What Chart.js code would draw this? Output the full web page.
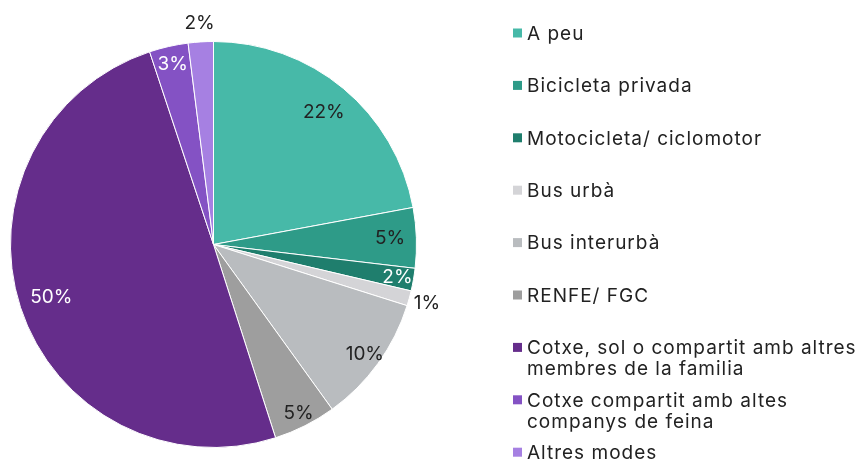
<!DOCTYPE html>
<html lang="ca">
<head>
    <meta charset="UTF-8">
    <title>Mode de desplaçament</title>
    <script src="https://cdn.jsdelivr.net/npm/chart.js"></script>
    <style>
        html, body {
            margin: 0;
            padding: 0;
            background: #ffffff;
        }
        #wrap {
            position: relative;
            width: 861px;
            height: 461px;
        }
    </style>
</head>
<body>
    <div id="wrap">
        <canvas id="modeChart"></canvas>
    </div>

    <script>
// Categories and values (percent)
const categories = [
    'A peu',
    'Bicicleta privada',
    'Motocicleta/ ciclomotor',
    'Bus urbà',
    'Bus interurbà',
    'RENFE/ FGC',
    'Cotxe, sol o compartit amb altres membres de la familia',
    'Cotxe compartit amb altes companys de feina',
    'Altres modes'
];
const values = [22.1, 4.8, 1.8, 1.2, 10.2, 5.0, 49.9, 3.1, 2.0];

// Legend text as it is wrapped in the picture
const legendLines = [
    ['A peu'],
    ['Bicicleta privada'],
    ['Motocicleta/ ciclomotor'],
    ['Bus urbà'],
    ['Bus interurbà'],
    ['RENFE/ FGC'],
    ['Cotxe, sol o compartit amb altres', 'membres de la familia'],
    ['Cotxe compartit amb altes', 'companys de feina'],
    ['Altres modes']
];

const colors = ['#47b9a8', '#2e9b88', '#1f7e6d', '#d4d4d7', '#b9bcbf', '#9e9e9e', '#652d8b', '#8452c4', '#a680e2'];
// label colour on each slice and how far out from the centre it sits (share of radius)
const labelColors = ['#222', '#222', '#fff', '#222', '#222', '#222', '#fff', '#fff', '#222'];
const labelRadius = [0.85, 0.87, 0.92, 1.09, 0.92, 0.93, 0.84, 0.91, 1.09];

const FONT = 'Inter, "Open Sans", sans-serif';

// draws the percentage labels on the slices
const sliceLabels = {
    id: 'sliceLabels',
    afterDatasetsDraw(chart) {
        const ctx = chart.ctx;
        const meta = chart.getDatasetMeta(0);
        ctx.save();
        ctx.letterSpacing = '0px';
        ctx.font = '19px ' + FONT;
        ctx.textAlign = 'center';
        ctx.textBaseline = 'middle';
        meta.data.forEach((arc, i) => {
            const p = arc.getProps(['x', 'y', 'startAngle', 'endAngle', 'outerRadius'], true);
            const mid = (p.startAngle + p.endAngle) / 2;
            const r = p.outerRadius * labelRadius[i];
            ctx.fillStyle = labelColors[i];
            ctx.fillText(Math.round(values[i]) + '%', p.x + Math.cos(mid) * r, p.y + Math.sin(mid) * r);
        });
        ctx.restore();
    }
};

// legend on the right, with the wrapped lines
const sideLegend = {
    id: 'sideLegend',
    afterDraw(chart) {
        const ctx = chart.ctx;
        ctx.save();
        ctx.font = '19px ' + FONT;
        ctx.letterSpacing = '1px';
        ctx.textBaseline = 'middle';
        ctx.textAlign = 'left';
        legendLines.forEach((lines, i) => {
            const y = 33 + i * 52.4;
            ctx.fillStyle = colors[i];
            ctx.fillRect(513, y - 4.5, 9, 9);
            ctx.fillStyle = '#222';
            lines.forEach((t, j) => {
                ctx.fillText(t, 527, y + 1 + j * 21);
            });
        });
        ctx.letterSpacing = '0px';
        ctx.restore();
    }
};

let modeChart = new Chart(document.getElementById('modeChart'), {
    type: 'pie',
    data: {
        labels: categories,
        datasets: [{
            data: values,
            backgroundColor: colors,
            borderColor: '#ffffff',
            borderWidth: 1
        }]
    },
    options: {
        responsive: true,
        maintainAspectRatio: false,
        animation: false,
        layout: {
            padding: { left: 10, top: 41, bottom: 13, right: 444 }
        },
        plugins: {
            legend: { display: false },
            tooltip: { enabled: false }
        }
    },
    plugins: [sliceLabels, sideLegend]
});
    </script>
</body>
</html>
